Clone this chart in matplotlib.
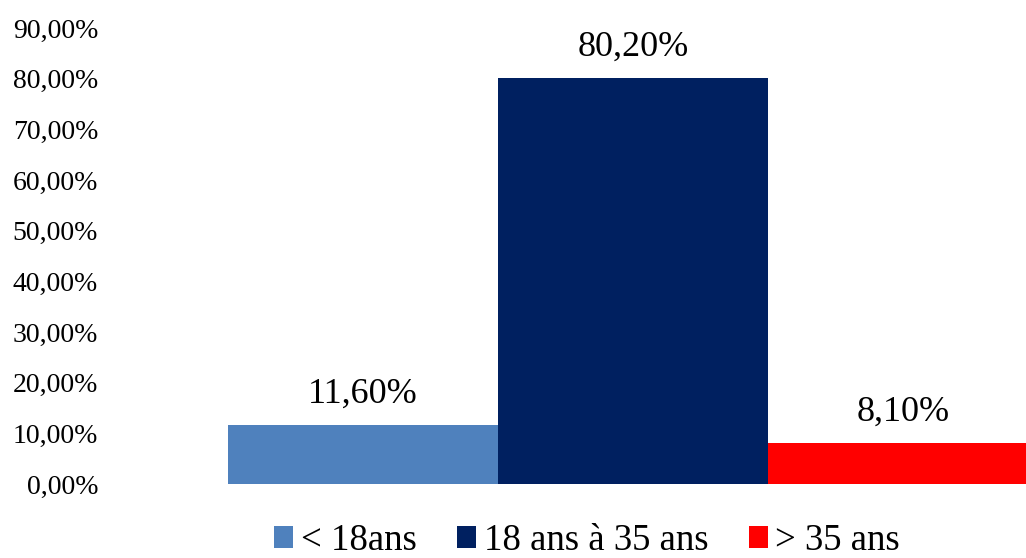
import matplotlib.pyplot as plt
from matplotlib.patches import Patch

plt.rcParams['font.family'] = ['Liberation Serif', 'DejaVu Serif']

# Age groups and their shares (%)
categories = ['< 18ans', '18 ans à 35 ans', '> 35 ans']
shares = [11.6, 80.2, 8.1]
colors = ['#4F81BD', '#002060', '#FF0000']
y_ticks = [0, 10, 20, 30, 40, 50, 60, 70, 80, 90]


def fr_pct(v):
    return f"{v:.2f}".replace('.', ',') + '%'


fig = plt.figure(figsize=(10.26, 5.58), dpi=100)
ax = fig.add_axes([228 / 1026, 74 / 558, 810 / 1026, 456 / 558])

x = range(len(categories))
bars = ax.bar(x, shares, width=1.0, color=colors, linewidth=0)

for xi, v in zip(x, shares):
    ax.annotate(fr_pct(v), (xi, v), xytext=(0, 22), textcoords='offset points',
                ha='center', va='center', fontsize=26)

ax.set_xlim(-0.5, 2.5)
ax.set_ylim(0, 90)
ax.set_yticks(y_ticks)
ax.set_yticklabels([fr_pct(t) for t in y_ticks], fontsize=20)
# labels sit well to the left of the first bar
ax.tick_params(axis='y', length=0, pad=130 * 0.72)
ax.set_xticks([])
for s in ax.spines.values():
    s.set_visible(False)

handles = [Patch(facecolor=c, edgecolor='none') for c in colors]
fig.legend(handles, categories, loc='center', bbox_to_anchor=(587 / 1026, 17 / 558),
           ncol=3, frameon=False, fontsize=26.5, handlelength=0.52, handleheight=0.52,
           handletextpad=0.2, columnspacing=1.1, borderpad=0)

fig.savefig('out.png', dpi=100)
